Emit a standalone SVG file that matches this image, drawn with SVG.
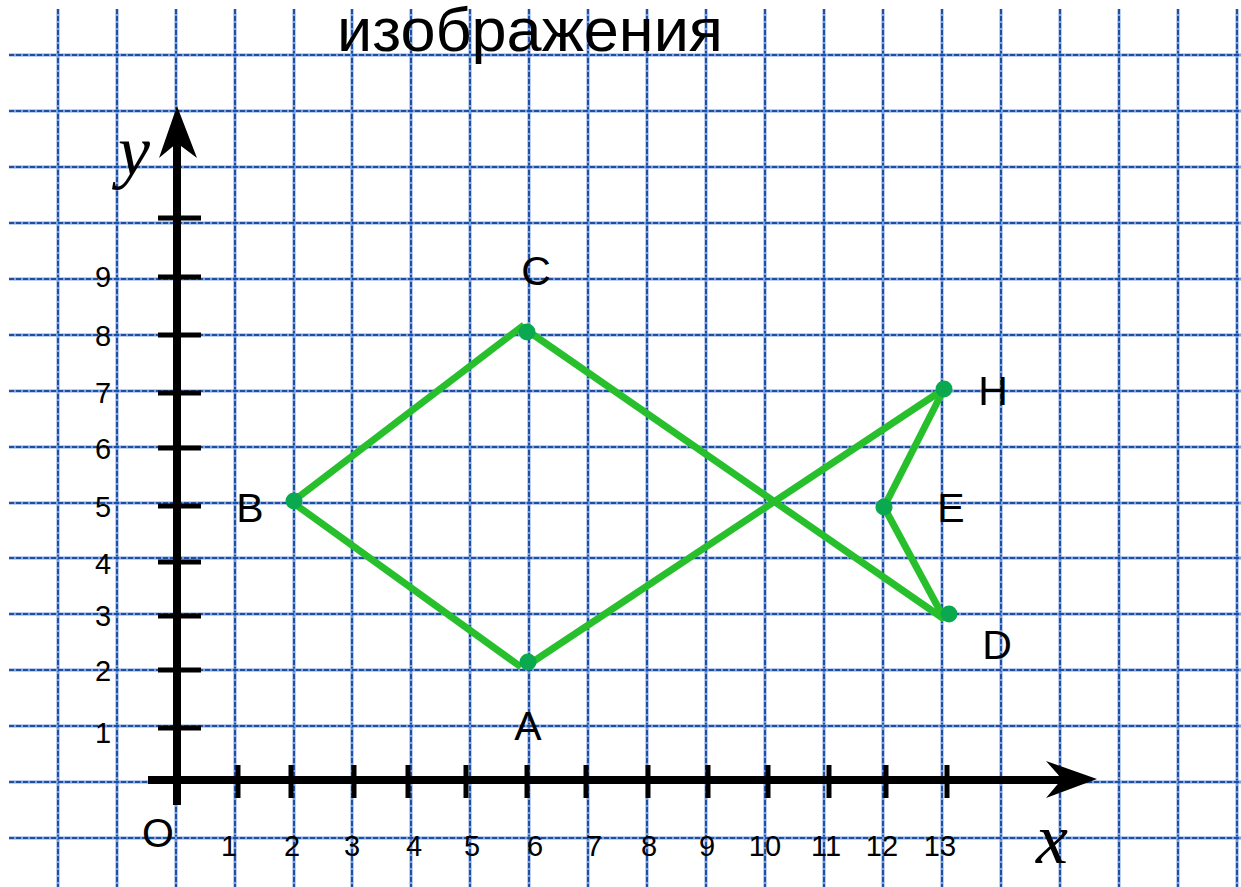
<svg xmlns="http://www.w3.org/2000/svg" width="1241" height="887" viewBox="0 0 1241 887">
<style>
.gl{stroke:#7fa0dc;stroke-width:3;fill:none}
.gd{stroke:#1d4fa6;stroke-width:2;stroke-dasharray:5 2;fill:none}
.ax{stroke:#000;stroke-width:8;fill:none}
.tk{stroke:#000;stroke-width:5;fill:none}
.num{font-family:"Liberation Sans",Arial,sans-serif;font-size:29px;fill:#000;text-anchor:middle}
.lbl{font-family:"Liberation Sans",Arial,sans-serif;font-size:41px;fill:#000;text-anchor:middle}
.ital{font-family:"Liberation Serif","Times New Roman",serif;font-style:italic;font-size:72px;fill:#000}
.edge{stroke:#27bf2c;stroke-width:7;fill:none;stroke-linecap:butt}
.dot{fill:#0aa84f}
</style>
<defs>
<g id="vline"><line x1="0" y1="9" x2="0" y2="887" class="gl"/><line x1="0" y1="9" x2="0" y2="887" class="gd"/></g>
<g id="hline"><line x1="9" y1="0" x2="1241" y2="0" class="gl"/><line x1="9" y1="0" x2="1241" y2="0" class="gd"/></g>
</defs>
<rect width="1241" height="887" fill="#fff"/>
<g id="grid">
<use href="#vline" x="58"/><use href="#vline" x="117"/><use href="#vline" x="176"/><use href="#vline" x="235"/><use href="#vline" x="294"/><use href="#vline" x="352"/><use href="#vline" x="411"/><use href="#vline" x="470"/><use href="#vline" x="529"/><use href="#vline" x="588"/><use href="#vline" x="647"/><use href="#vline" x="706"/><use href="#vline" x="765"/><use href="#vline" x="824"/><use href="#vline" x="883"/><use href="#vline" x="942"/><use href="#vline" x="1001"/><use href="#vline" x="1060"/><use href="#vline" x="1119"/><use href="#vline" x="1178"/><use href="#vline" x="1237"/>
<use href="#hline" y="55"/><use href="#hline" y="111"/><use href="#hline" y="167"/><use href="#hline" y="223"/><use href="#hline" y="279"/><use href="#hline" y="335"/><use href="#hline" y="391"/><use href="#hline" y="447"/><use href="#hline" y="503"/><use href="#hline" y="558"/><use href="#hline" y="614"/><use href="#hline" y="670"/><use href="#hline" y="726"/><use href="#hline" y="782"/><use href="#hline" y="838"/>
</g>
<text x="530" y="51" font-family="'Liberation Sans',Arial,sans-serif" font-size="61" text-anchor="middle" textLength="386" lengthAdjust="spacingAndGlyphs">изображения</text>
<g id="axes">
<line x1="177" y1="805" x2="177" y2="140" class="ax"/>
<path d="M177,106 L197,158 L177,143 L159,158 Z" fill="#000"/>
<line x1="148" y1="780" x2="1065" y2="780" class="ax"/>
<path d="M1097,779 L1046,761 L1062,779 L1046,798 Z" fill="#000"/>
<g id="yticks">
<line x1="158" y1="218" x2="201" y2="218" class="tk"/>
<line x1="158" y1="277" x2="201" y2="277" class="tk"/>
<line x1="158" y1="335" x2="201" y2="335" class="tk"/>
<line x1="158" y1="393" x2="201" y2="393" class="tk"/>
<line x1="158" y1="448" x2="201" y2="448" class="tk"/>
<line x1="158" y1="506" x2="201" y2="506" class="tk"/>
<line x1="158" y1="562" x2="201" y2="562" class="tk"/>
<line x1="158" y1="616" x2="201" y2="616" class="tk"/>
<line x1="158" y1="670" x2="201" y2="670" class="tk"/>
<line x1="158" y1="728" x2="201" y2="728" class="tk"/>
</g>
<g id="xticks">
<line x1="238" y1="765" x2="238" y2="798" class="tk"/>
<line x1="291" y1="765" x2="291" y2="798" class="tk"/>
<line x1="354" y1="765" x2="354" y2="798" class="tk"/>
<line x1="408" y1="765" x2="408" y2="798" class="tk"/>
<line x1="466" y1="765" x2="466" y2="798" class="tk"/>
<line x1="527" y1="765" x2="527" y2="798" class="tk"/>
<line x1="586" y1="765" x2="586" y2="798" class="tk"/>
<line x1="648" y1="765" x2="648" y2="798" class="tk"/>
<line x1="708" y1="765" x2="708" y2="798" class="tk"/>
<line x1="768" y1="765" x2="768" y2="798" class="tk"/>
<line x1="829" y1="765" x2="829" y2="798" class="tk"/>
<line x1="886" y1="765" x2="886" y2="798" class="tk"/>
<line x1="947" y1="765" x2="947" y2="798" class="tk"/>
</g>
<g id="ylabels">
<text class="num" x="103" y="287">9</text>
<text class="num" x="103" y="346">8</text>
<text class="num" x="103" y="403">7</text>
<text class="num" x="103" y="459">6</text>
<text class="num" x="103" y="517">5</text>
<text class="num" x="103" y="574">4</text>
<text class="num" x="103" y="626">3</text>
<text class="num" x="103" y="681">2</text>
<text class="num" x="103" y="743">1</text>
</g>
<g id="xlabels">
<text class="num" x="229" y="856">1</text>
<text class="num" x="292" y="856">2</text>
<text class="num" x="352" y="856">3</text>
<text class="num" x="414" y="856">4</text>
<text class="num" x="472" y="856">5</text>
<text class="num" x="535" y="856">6</text>
<text class="num" x="594" y="856">7</text>
<text class="num" x="649" y="856">8</text>
<text class="num" x="707" y="856">9</text>
<text class="num" x="765" y="856">10</text>
<text class="num" x="826" y="856">11</text>
<text class="num" x="882" y="856">12</text>
<text class="num" x="940" y="856">13</text>
</g>
<text class="lbl" x="158" y="847">O</text>
<text class="ital" x="118" y="175">y</text>
<text class="ital" x="1036" y="863">x</text>
</g>
<g id="connectors">
<line class="edge" x1="292" y1="502" x2="524" y2="325"/>
<line class="edge" x1="525" y1="329" x2="944" y2="619"/>
<line class="edge" x1="292" y1="502" x2="521" y2="667"/>
<line class="edge" x1="531" y1="663" x2="944" y2="389"/>
<line class="edge" x1="944" y1="389" x2="884" y2="507"/>
<line class="edge" x1="884" y1="507" x2="945" y2="620"/>
</g>
<g id="node-A"><circle class="dot" cx="528" cy="662" r="8.5"/><text class="lbl" x="528" y="740">A</text></g>
<g id="node-B"><circle class="dot" cx="294" cy="501" r="8.5"/><text class="lbl" x="250" y="522">B</text></g>
<g id="node-C"><circle class="dot" cx="527" cy="332" r="8.5"/><text class="lbl" x="536" y="285">C</text></g>
<g id="node-D"><circle class="dot" cx="949" cy="614" r="8.5"/><text class="lbl" x="997" y="659">D</text></g>
<g id="node-E"><circle class="dot" cx="884" cy="507" r="8.5"/><text class="lbl" x="951" y="522">E</text></g>
<g id="node-H"><circle class="dot" cx="944" cy="389" r="8.5"/><text class="lbl" x="993" y="405">H</text></g>
</svg>
